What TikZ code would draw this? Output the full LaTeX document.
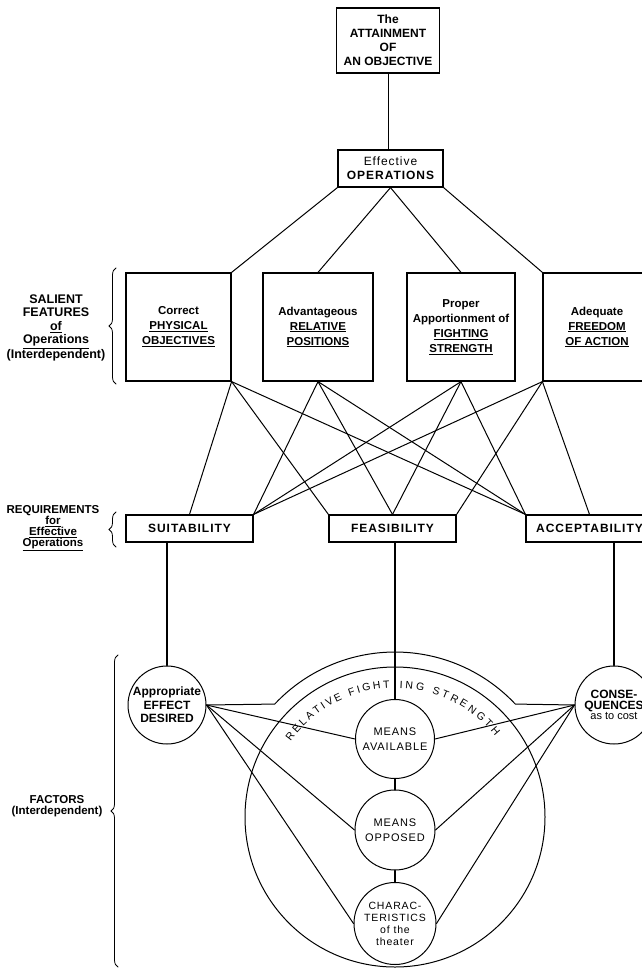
\documentclass[tikz,border=0pt]{standalone}
\usepackage{fontspec}
\setmainfont{Liberation Sans}
\newfontfamily\spaced[LetterSpace=8]{Liberation Sans}
\usetikzlibrary{decorations.pathreplacing,decorations.text}
\begin{document}
\begin{tikzpicture}[x=1pt,y=1pt,line cap=round]
        % Styles
        \tikzstyle{frame}=[draw,line width=1.2pt,inner sep=0pt,align=center]
        \tikzstyle{feature}=[frame,minimum height=108pt,font=\fontsize{11.5}{15}\selectfont\bfseries]
        \tikzstyle{requirement}=[frame,minimum width=127pt,minimum height=27pt,font=\spaced\bfseries\fontsize{12}{14}\selectfont]
        \tikzstyle{factor}=[circle,draw,line width=1pt,inner sep=-3pt,align=center]
        \tikzstyle{link}=[line width=1pt]
        \tikzstyle{stem}=[line width=1.5pt]
        \tikzstyle{side text}=[align=center,font=\fontsize{12.5}{13.5}\selectfont\bfseries]
        \tikzstyle{side brace}=[decorate,decoration={brace,amplitude=7pt},line width=0.8pt]
        %The graphic
        \useasboundingbox (0,0) rectangle (642,-969);
        \clip (0,0) rectangle (642,-969);
        %objective and operations
        \node[frame,minimum width=103pt,minimum height=65pt,font=\fontsize{12}{14}\selectfont\bfseries] (goal) at (388,-40.5) {The\\ATTAINMENT\\OF\\AN OBJECTIVE};
        \node[frame,minimum width=105pt,minimum height=37pt,font=\spaced\bfseries\fontsize{12}{14}\selectfont] (ops) at (390.5,-168.5) {\mdseries Effective\\OPERATIONS};
        \draw[link] (goal.south) -- (goal.south |- ops.north);
        %salient features
        \node[feature,minimum width=105pt] (phys) at (178.5,-327) {Correct\\\underline{PHYSICAL}\\\underline{OBJECTIVES}};
        \node[feature,minimum width=110pt] (rel) at (318,-327) {Advantageous\\\underline{RELATIVE}\\\underline{POSITIONS}};
        \node[feature,minimum width=108pt] (fight) at (461,-327) {Proper\\Apportionment of\\\underline{FIGHTING}\\\underline{STRENGTH}};
        \node[feature,minimum width=108pt] (free) at (597,-327) {Adequate\\\underline{FREEDOM}\\\underline{OF ACTION}};
        \foreach \a/\b in {ops.south west/phys.north east,ops.south/rel.north,ops.south/fight.north,ops.south east/free.north west}
            \draw[link] (\a) -- (\b);
        %requirements
        \node[requirement] (suit) at (189.5,-528.5) {SUITABILITY};
        \node[requirement] (feas) at (392.5,-528.5) {FEASIBILITY};
        \node[requirement] (accept) at (589.5,-528.5) {ACCEPTABILITY};
        \foreach \a/\b in {phys.south east/suit.north,phys.south east/feas.north west,phys.south east/accept.north west,
                           rel.south/suit.north east,rel.south/feas.north,rel.south/accept.north west,
                           fight.south/suit.north east,fight.south/feas.north,fight.south/accept.north west,
                           free.south west/suit.north east,free.south west/feas.north east,free.south west/accept.north}
            \draw[link] (\a) -- (\b);
        %factors
        \node[factor,minimum size=78pt,font=\fontsize{12}{13.5}\selectfont\bfseries] (effect) at (167,-705) {Appropriate\\EFFECT\\DESIRED};
        \node[factor,minimum size=78pt,font=\fontsize{12}{10.5}\selectfont\bfseries] (cost) at (614,-705) {CONSE-\\QUENCES\\\fontsize{11}{10.5}\selectfont\mdseries as to cost};
        \node[factor,minimum size=79pt,font=\spaced\fontsize{11}{15}\selectfont] (avail) at (395,-739) {MEANS\\AVAILABLE};
        \node[factor,minimum size=80pt,font=\spaced\fontsize{11}{15}\selectfont] (opposed) at (395,-830) {MEANS\\OPPOSED};
        \node[factor,minimum size=82pt,font=\spaced\fontsize{10.5}{12}\selectfont] (charac) at (395,-923.5) {CHARAC-\\TERISTICS\\of the\\theater};
        \coordinate (hub) at (395,-817);
        \draw[stem] (effect.north) -- (effect.north |- suit.south);
        \draw[stem] (avail.north) -- (avail.north |- feas.south);
        \draw[stem] (cost.north) -- (cost.north |- accept.south);
        \draw[line width=2pt] (avail.south) -- (opposed.north);
        \draw[line width=2pt] (opposed.south) -- (charac.north);
        \draw[link] (hub) circle[radius=150pt];
        \draw[link] (effect.east) -- ([shift={(136.8:165pt)}]hub) arc[start angle=136.8,end angle=43.2,radius=165pt] -- (cost.west);
        \foreach \b in {avail,opposed,charac}
        {
            \draw[link] (effect.east) -- (\b.west);
            \draw[link] (cost.west) -- (\b.east);
        }
        %relative fighting strength
        \path[decorate,decoration={text along path,text align=fit to path,text={|\fontsize{10.5}{11}\selectfont|RELATIVE FIGHT}}]
            ([shift={(144:129pt)}]hub) arc[start angle=144,end angle=92.3,radius=129pt];
        \path[decorate,decoration={text along path,text align=fit to path,text={|\fontsize{10.5}{11}\selectfont|ING STRENGTH}}]
            ([shift={(88:129pt)}]hub) arc[start angle=88,end angle=39,radius=129pt];
        %side labels
        \node[side text] (salient) at (56,-328) {SALIENT\\FEATURES\\\underline{of}\\\underline{Operations}\\(Interdependent)};
        \node[side text,font=\fontsize{11.5}{11}\selectfont\bfseries] (needs) at (53,-528.5) {REQUIREMENTS\\\underline{for}\\\underline{Effective}\\\underline{Operations}};
        \node[side text,font=\fontsize{11.5}{11}\selectfont\bfseries] (factors) at (57,-806) {FACTORS\\(Interdependent)};
        \draw[side brace] (116,-384) -- (116,-268);
        \draw[side brace] (116,-547) -- (116,-512);
        \draw[side brace] (118,-967) -- (118,-655);
\end{tikzpicture}
\end{document}
